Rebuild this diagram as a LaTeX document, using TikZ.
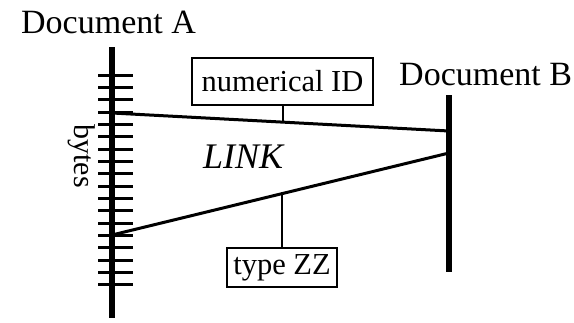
\documentclass[tikz,border=0pt]{standalone}
\usepackage{fontspec}
\setmainfont{Liberation Serif}
\usetikzlibrary{calc}
\tikzset{
  lbl/.style={inner sep=0pt, font=\fontsize{34}{36}\selectfont},
  boxlbl/.style={draw, line width=2pt, inner sep=0pt, font=\fontsize{30.5}{33}\selectfont},
  axisline/.style={line width=5.5pt},
  tickline/.style={line width=3pt},
  linkline/.style={line width=3pt},
  conn/.style={line width=2pt}
}
\begin{document}
\begin{tikzpicture}[x=1pt,y=-1pt]
\useasboundingbox (0,0) rectangle (574,322);
% Document A axis
\coordinate (atop) at (112,47);
\coordinate (abot) at (112,318);
\draw[axisline] (atop) -- (abot);
\foreach \i in {0,...,17} {
  \draw[tickline] (98,{75+\i*12.35}) -- (133,{75+\i*12.35});
}
% Document B axis
\coordinate (btop) at (449,95);
\coordinate (bbot) at (449,272);
\draw[axisline] (btop) -- (bbot);
% labels
\node[lbl, anchor=base west] (docA) at (21,33) {Document A};
\node[lbl, anchor=base west] (docB) at (399,85) {Document B};
\node[lbl, font=\fontsize{36}{38}\selectfont\itshape, anchor=base west] (link) at (203,168) {LINK};
\node[inner sep=0pt, font=\fontsize{30}{33}\selectfont, rotate=-90] (bytes) at (82,156) {bytes};
% link lines
\coordinate (a1) at (112,113);
\coordinate (b1) at (449,131);
\coordinate (a2) at (112,235);
\coordinate (b2) at (449,153);
\draw[linkline] (a1) -- (b1);
\draw[linkline] (a2) -- (b2);
% boxes
\node[boxlbl, minimum width=181pt, minimum height=47pt] (nid) at (282.5,81.5) {numerical ID};
\node[boxlbl, minimum width=110pt, minimum height=39pt] (tzz) at (282,267.5) {type ZZ};
\coordinate (m1) at ($(a1)!0.524!(b1)$);
\coordinate (m2) at ($(a2)!0.527!(b2)$);
\draw[conn] (nid.south) -- (nid.south |- m1);
\draw[conn] (tzz.north) -- (tzz.north |- m2);
\end{tikzpicture}
\end{document}
